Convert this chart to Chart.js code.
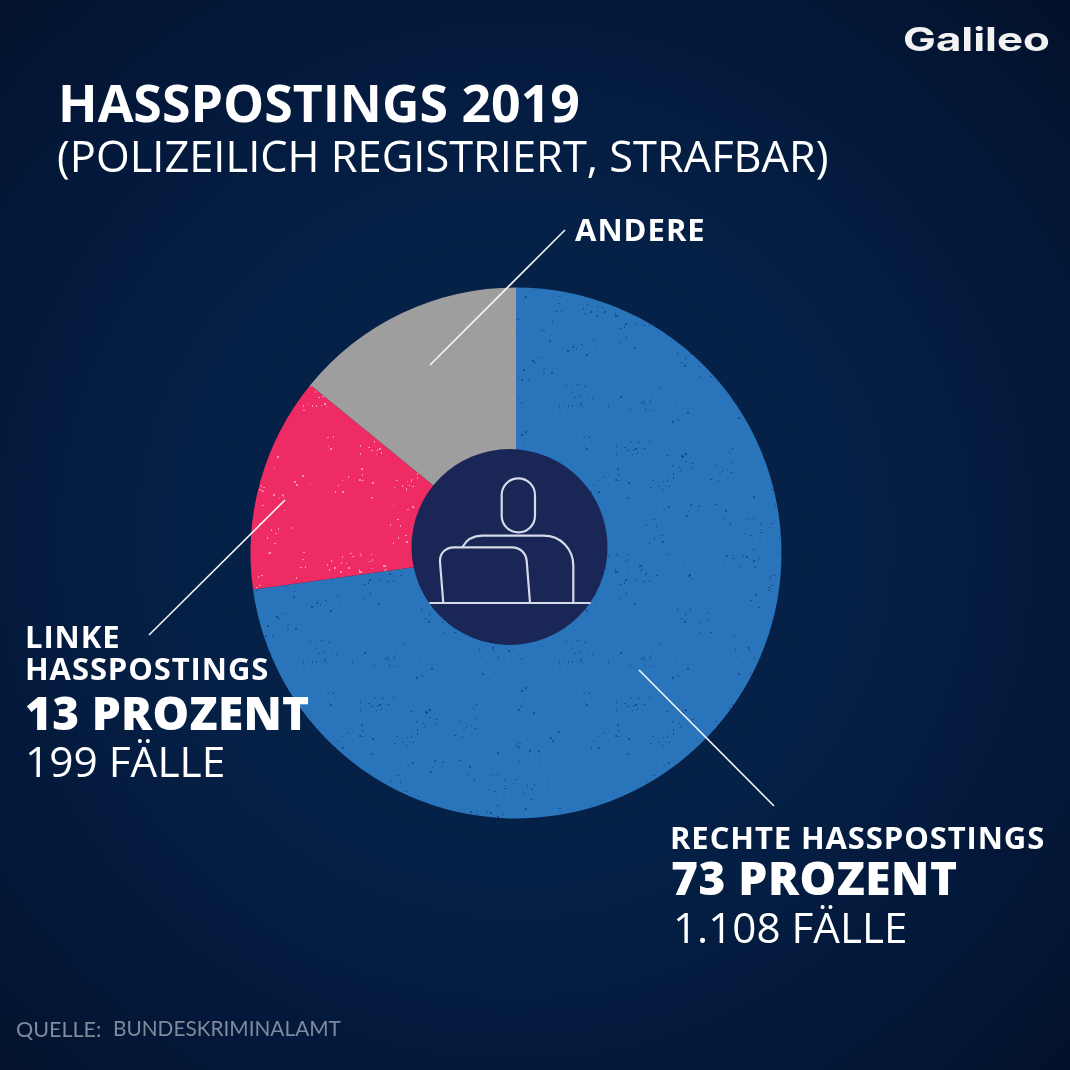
<!DOCTYPE html>
<html lang="de">
<head>
<meta charset="UTF-8" />
<title>Hasspostings 2019</title>
<script src="https://cdn.jsdelivr.net/npm/chart.js"></script>
<style>
  html, body { margin: 0; padding: 0; }
  body { width: 1070px; height: 1070px; overflow: hidden; position: relative;
    background: radial-gradient(circle 760px at 515px 540px, #062448 0%, #052046 45%, #03183a 75%, #03122b 100%); }
  #wrap { position: absolute; left: 0; top: 0; width: 1070px; height: 1070px; }
  svg { position: absolute; left: 0; top: 0; }
  text { font-family: "Open Sans", sans-serif; fill: #fff; }
</style>
</head>
<body>
<div id="wrap"><canvas id="chart" width="1070" height="1070"></canvas></div>
<svg id="overlay" width="1070" height="1070" viewBox="0 0 1070 1070">
  <circle cx="509.5" cy="547" r="98" fill="#1a2656" />
  <g fill="none" stroke="#d5d9e8" stroke-width="2.2">
    <rect x="501.7" y="478.3" width="33.3" height="54" rx="16.6" />
    <path d="M429.3 603H590.7" />
    <path d="M462.3 547.3C467 539 474 535.7 482 535.7H543.3C561 535.7 573.3 549 573.3 566V603" />
    <path d="M443.3 603L440 562C439.5 553 446 547.3 454 547.3H512C520 547.3 526 553 526.7 561L530 603" />
  </g>
  <g stroke="#f2f5f8" stroke-width="1.6">
    <path d="M565 230L430 365" />
    <path d="M285 500L149 635" />
    <path d="M639 670L774 806" />
  </g>
  <g id="labels"></g>
</svg>
<script>
const categories = ['Rechte Hasspostings', 'Linke Hasspostings', 'Andere'];
const shares = [72.8, 13.1, 14.1];
const sliceColours = ['#2a74bc', '#ee2b62', '#9e9e9e'];
const speckleColours = ['rgba(20,65,130,0.7)', 'rgba(255,200,215,0.65)', null];

// text, x, baseline, size, weight, letter spacing
const labelRows = [
  ['HASSPOSTINGS 2019', 58, 122, 51.8, 700, 0],
  ['(POLIZEILICH REGISTRIERT, STRAFBAR)', 57, 172, 43.4, 400, 0],
  ['ANDERE', 575, 241, 31, 700, 1],
  ['LINKE', 25, 648, 31, 700, 0.9],
  ['HASSPOSTINGS', 25, 680, 31, 700, 0.9],
  ['13 PROZENT', 25, 730, 46, 800, 0.3],
  ['199 FÄLLE', 25, 777, 42.4, 400, 0],
  ['RECHTE HASSPOSTINGS', 670, 849, 31, 700, 0.9],
  ['73 PROZENT', 671, 895, 46, 800, 0.5],
  ['1.108 FÄLLE', 673, 943, 42.2, 400, 0]
];

function addText(str, x, y, size, weight, spacing, extra) {
  const node = document.createElementNS('http://www.w3.org/2000/svg', 'text');
  node.textContent = str;
  node.setAttribute('x', x);
  node.setAttribute('y', y);
  node.setAttribute('font-size', size);
  node.setAttribute('font-weight', weight);
  node.setAttribute('letter-spacing', spacing);
  if (extra) Object.keys(extra).forEach(k => node.setAttribute(k, extra[k]));
  document.getElementById('labels').appendChild(node);
}

labelRows.forEach(row => addText(row[0], row[1], row[2], row[3], row[4], row[5]));
addText('QUELLE:', 16, 1037, 21.5, 400, 0, { style: 'font-family:Lato;fill:#7f8a9c' });
addText('BUNDESKRIMINALAMT', 113, 1036, 20.8, 400, 0, { style: 'font-family:Lato;fill:#7f8a9c' });
addText('Galileo', 903, 51, 33, 700, 0, {
  style: 'font-family:Inter;fill:#f2f2f2', textLength: 147, lengthAdjust: 'spacingAndGlyphs'
});

// paper grain tile, same dots each run
function grain(base, dot) {
  if (!dot) return base;
  const tile = document.createElement('canvas');
  tile.width = tile.height = 256;
  const g = tile.getContext('2d');
  g.fillStyle = base;
  g.fillRect(0, 0, 256, 256);
  g.fillStyle = dot;
  let s = 12345;
  const next = n => { s = (s * 1103515245 + 12345) % 2147483648; return Math.floor(s / 65536) % n; };
  for (let i = 0; i < 70; i++) {
    const cx = next(256), cy = next(256);
    for (let j = 0; j < 4; j++) {
      g.fillRect((cx + next(24)) % 256, (cy + next(24)) % 256, 1 + next(2), 1 + next(2));
    }
  }
  return g.createPattern(tile, 'repeat');
}

new Chart(document.getElementById('chart'), {
  type: 'doughnut',
  data: {
    labels: categories,
    datasets: [{
      data: shares,
      backgroundColor: sliceColours.map((c, i) => grain(c, speckleColours[i])),
      borderWidth: 0
    }]
  },
  options: {
    responsive: false,
    animation: false,
    cutout: 85,
    rotation: 0,
    layout: { padding: { left: 250.5, right: 288.5, top: 287, bottom: 251 } },
    plugins: { legend: { display: false }, tooltip: { enabled: false } }
  }
});
</script>
</body>
</html>
